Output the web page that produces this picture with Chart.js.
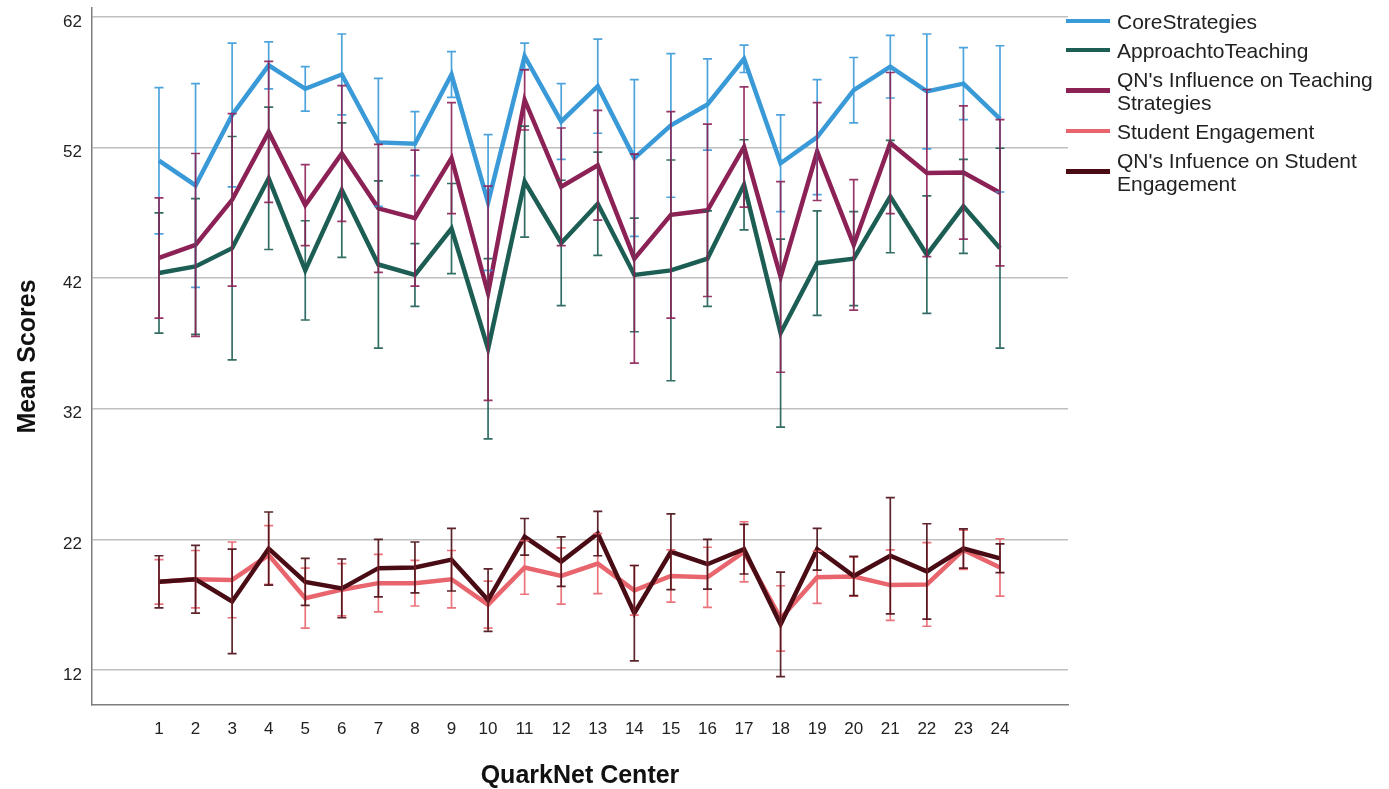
<!DOCTYPE html>
<html>
<head>
<meta charset="utf-8">
<script src="https://cdn.jsdelivr.net/npm/chart.js@4"></script>
<style>
  body { margin: 0; background: #fff; }
  #wrap { position: relative; width: 1389px; height: 789px; }
  #legend { position: absolute; left: 1066px; top: 9.5px; font-family: "Liberation Sans", Arial, sans-serif; font-size: 21px; color: #222; }
  .item { display: flex; align-items: center; margin-bottom: 6px; }
  .swatch { width: 44px; height: 4.5px; flex: none; margin-right: 7px; }
  .label { line-height: 23px; width: 268px; }
</style>
</head>
<body>
<div id="wrap">
  <canvas id="chart" width="1389" height="789"></canvas>
  <div id="legend"></div>
</div>
<script>
const centers = [1,2,3,4,5,6,7,8,9,10,11,12,13,14,15,16,17,18,19,20,21,22,23,24]
const yTicks = [12, 22, 32, 42, 52, 62]

const names = ['CoreStrategies', 'ApproachtoTeaching', "QN's Influence on Teaching Strategies", 'Student Engagement', "QN's Infuence on Student Engagement"]
const colors = ['#3a9ad8', '#1c5e54', '#8c2156', '#e8656e', '#4a0c14']

// means
const coreStrategies = [51.0, 49.1, 54.5, 58.3, 56.5, 57.6, 52.4, 52.3, 57.6, 47.8, 59.0, 54.0, 56.7, 51.2, 53.7, 55.3, 58.8, 50.8, 52.8, 56.4, 58.2, 56.3, 56.9, 54.2]
const approachTeaching = [42.4, 42.9, 44.3, 49.65, 42.6, 48.75, 43.05, 42.25, 45.8, 36.6, 49.4, 44.7, 47.7, 42.25, 42.6, 43.5, 49.15, 37.8, 43.15, 43.5, 48.25, 43.8, 47.5, 44.3]
const influenceTeaching = [43.55, 44.55, 48.0, 53.2, 47.6, 51.55, 47.35, 46.6, 51.2, 40.85, 55.65, 49.0, 50.65, 43.5, 46.85, 47.2, 52.05, 42.1, 51.7, 44.55, 52.35, 50.05, 50.1, 48.55]
const studentEngagement = [18.75, 18.95, 18.9, 20.8, 17.5, 18.15, 18.65, 18.65, 18.95, 17.0, 19.85, 19.2, 20.15, 18.1, 19.2, 19.1, 21.05, 15.95, 19.1, 19.15, 18.5, 18.55, 21.2, 19.85]
const influenceStudent = [18.75, 18.95, 17.25, 21.3, 18.75, 18.25, 19.8, 19.85, 20.45, 17.35, 22.2, 20.3, 22.45, 16.35, 21.05, 20.1, 21.25, 15.5, 21.25, 19.2, 20.75, 19.55, 21.3, 20.55]

// error bar half widths
const coreErr = [5.6, 7.8, 5.5, 1.8, 1.7, 3.1, 4.9, 2.45, 1.75, 5.2, 1.0, 2.9, 3.6, 6.0, 5.5, 3.5, 1.05, 3.7, 4.4, 2.5, 2.4, 4.4, 2.75, 5.6]
const approachErr = [4.6, 5.2, 8.55, 5.45, 3.8, 5.15, 6.4, 2.4, 3.45, 6.9, 4.25, 4.8, 3.95, 4.35, 8.45, 3.65, 3.45, 7.2, 4.0, 3.6, 4.3, 4.5, 3.6, 7.65]
const influenceTeachingErr = [4.6, 7.0, 6.6, 5.4, 3.1, 5.2, 4.9, 5.2, 4.25, 8.2, 2.3, 4.5, 4.2, 8.0, 7.9, 6.6, 4.6, 7.3, 3.75, 5.0, 5.4, 6.4, 5.1, 5.6]
const engagementErr = [1.7, 2.2, 2.9, 2.25, 2.3, 2.0, 2.2, 1.75, 2.2, 1.8, 2.05, 2.15, 2.3, 1.9, 2.0, 2.3, 2.3, 2.5, 2.0, 1.5, 2.7, 3.2, 1.5, 2.2]
const influenceStudentErr = [2.0, 2.6, 4.0, 2.8, 1.8, 2.25, 2.2, 1.95, 2.4, 2.4, 1.4, 1.9, 1.7, 3.65, 2.9, 1.9, 1.9, 4.0, 1.6, 1.5, 4.45, 3.65, 1.5, 1.1]

const means = [coreStrategies, approachTeaching, influenceTeaching, studentEngagement, influenceStudent]
const errs = [coreErr, approachErr, influenceTeachingErr, engagementErr, influenceStudentErr]

const FONT = '"Liberation Sans", Arial, sans-serif'

const datasets = names.map((name, i) => ({
    label: name,
    data: centers.map((c, j) => ({x: c, y: means[i][j]})),
    err: errs[i],
    borderColor: colors[i],
    backgroundColor: colors[i],
    borderWidth: 4.5,
    pointRadius: 0,
    tension: 0,
    order: names.length - i
}))

//error bars drawn with the chart scales
const errorBars = {
    id: 'errorBars',
    afterDatasetsDraw(chart) {
        const {ctx, scales: {x, y}} = chart
        chart.data.datasets.forEach(ds => {
            ctx.save()
            ctx.strokeStyle = ds.borderColor
            ctx.globalAlpha = 0.9
            ctx.lineWidth = 1.7
            ds.data.forEach((p, j) => {
                const px = x.getPixelForValue(p.x)
                const top = y.getPixelForValue(p.y + ds.err[j])
                const bot = y.getPixelForValue(p.y - ds.err[j])
                ctx.beginPath()
                ctx.moveTo(px, top); ctx.lineTo(px, bot)
                ctx.moveTo(px - 4.5, top); ctx.lineTo(px + 4.5, top)
                ctx.moveTo(px - 4.5, bot); ctx.lineTo(px + 4.5, bot)
                ctx.stroke()
            })
            ctx.restore()
        })
    }
}

new Chart(document.getElementById('chart'), {
    type: 'line',
    data: { datasets },
    options: {
        responsive: false,
        animation: false,
        devicePixelRatio: 1,
        layout: { padding: { top: 8, right: 321, left: 0, bottom: 0 } },
        plugins: { legend: { display: false }, tooltip: { enabled: false } },
        scales: {
            x: {
                type: 'linear',
                min: -0.832,
                max: 25.86,
                afterBuildTicks: s => { s.ticks = centers.map(v => ({value: v})) },
                afterFit: s => { s.height = 84; s.paddingLeft = 0; s.paddingRight = 0 },
                grid: { display: false, drawTicks: false },
                border: { display: true, color: '#7d7d7d', width: 1.5 },
                ticks: { padding: 14, color: '#222', font: { family: FONT, size: 17 }, callback: v => String(v) },
                title: { display: true, text: 'QuarkNet Center', color: '#111', padding: {top: 0, bottom: 0}, font: { family: FONT, size: 25, weight: 'bold', lineHeight: 1 } }
            },
            y: {
                min: 9.32,
                max: 62.69,
                afterBuildTicks: s => { s.ticks = yTicks.map(v => ({value: v})) },
                afterFit: s => { s.width = 92; s.paddingTop = 0; s.paddingBottom = 0 },
                grid: { color: '#bfbfbf', lineWidth: 1.5, drawTicks: false },
                border: { display: true, color: '#7d7d7d', width: 1.5 },
                ticks: { padding: 10, labelOffset: 5, color: '#222', font: { family: FONT, size: 17 } },
                title: { display: true, text: 'Mean Scores', color: '#111', padding: {top: 15.5, bottom: 0}, font: { family: FONT, size: 25, weight: 'bold', lineHeight: 1 } }
            }
        }
    },
    plugins: [errorBars]
})

//legend
const legend = document.getElementById('legend')
names.forEach((name, i) => {
    legend.innerHTML += `
        <div class="item">
            <div class="swatch" style="background:${colors[i]}"></div>
            <div class="label">${name}</div>
        </div>
    `
})
</script>
</body>
</html>
